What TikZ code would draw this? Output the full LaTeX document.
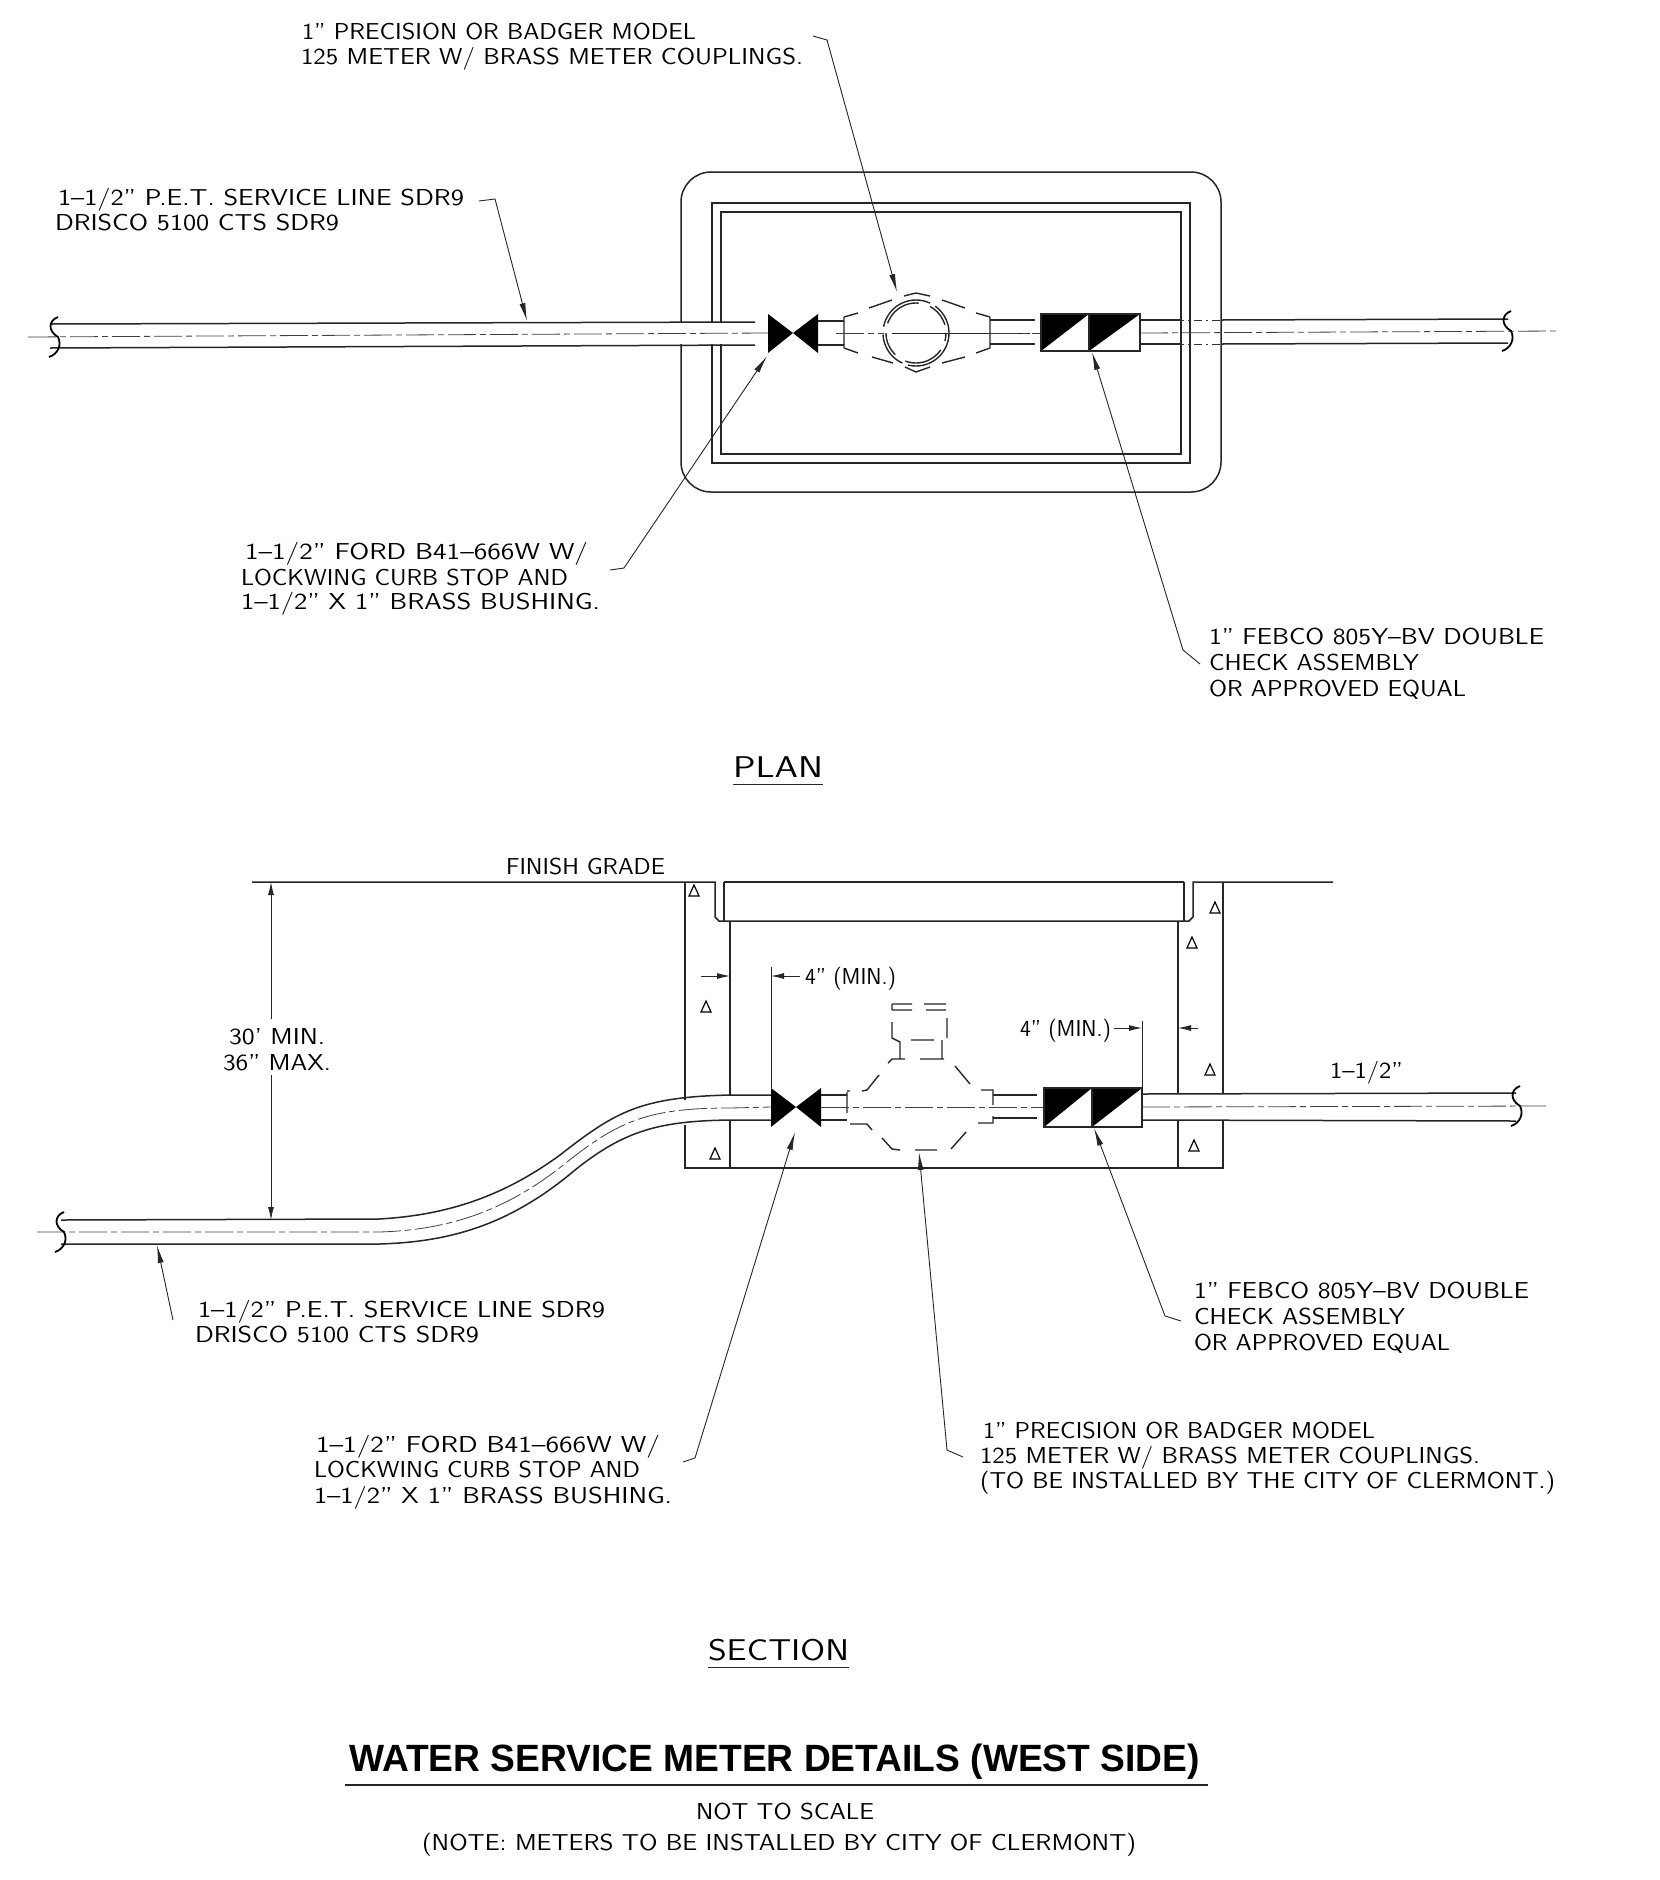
\documentclass[tikz,border=0pt]{standalone}
\usepackage{graphicx}
\usepackage{fontspec}
\usetikzlibrary{arrows.meta}
\setsansfont[Ligatures=ResetAll]{Latin Modern Sans}
\newfontfamily\titlefont{Liberation Sans}
\tikzset{
  main/.style={line width=0.75pt,black!85},
  thin/.style={line width=0.4pt,black!85},
  cl/.style={line width=0.4pt,black!75,dash pattern=on 14pt off 2pt on 3pt off 2pt},
  hidden/.style={line width=0.4pt,black!80,dash pattern=on 4pt off 2pt on 1pt off 2pt},
  lead/.style={line width=0.45pt,black!85,-{Latex[length=9pt,width=3pt]}},
  dimn/.style={line width=0.45pt,black!85,-{Latex[length=6.5pt,width=3pt]}},
  mdash/.style={line width=0.7pt,black!85},
  conc/.style={line width=0.6pt,black},
  lab/.style={anchor=west,inner sep=0pt,outer sep=0pt,text height=8pt,text depth=0pt,font=\fontsize{11.5}{13}\sffamily},
  big/.style={lab,text height=10pt,font=\fontsize{15}{17}\sffamily},
  ttl/.style={lab,text height=10pt,font=\fontsize{19}{22}\titlefont\bfseries},
}
% name, left x, right x, y, text
\newcommand\lab[5]{\node[lab] (#1) at (#2,#4) {\resizebox{\dimexpr #3pt/2-#2pt/2\relax}{\height}{#5}};}
\newcommand\biglab[5]{\node[big] (#1) at (#2,#4) {\resizebox{\dimexpr #3pt/2-#2pt/2\relax}{\height}{#5}};}
\newcommand\triang[2]{\draw[conc] (#1-5,#2+5) -- (#1+5,#2+5) -- (#1,#2-6) -- cycle;}
\newcommand\brk[2]{\draw[line width=0.9pt] (#1+6,#2-20) .. controls (#1-4,#2-16) and (#1-4,#2-6) .. (#1+6,#2) .. controls (#1+10,#2+8) and (#1+6,#2+17) .. (#1-3,#2+20);}
\begin{document}
\begin{tikzpicture}[x=0.5pt,y=-0.5pt]
\useasboundingbox[fill=white] (0,0) rectangle (1660,1880);
% ===== PLAN =====
\draw[main,rounded corners=15pt] (681,172) rectangle (1221,492);
\draw[main] (712,203) rectangle (1190,463);
\draw[main] (721,212) rectangle (1181,454);
\fill[white] (670,323) rectangle (767,344);
% pipe
\draw[main] (50,324) -- (755,322) (50,348) -- (755,345);
\draw[cl] (28,337) -- (768,333);
\brk{52}{337}
\fill[black] (768,314) -- (768,353) -- (793,333) -- (818,314) -- (818,353) -- (793,333) -- cycle;
\draw[main] (818,321) -- (844,321) (818,345) -- (844,345);
\draw[main] (990,320) -- (1035,320) (990,344) -- (1035,344);
\draw[mdash] (844,317) -- (844,348)
 (990,317) -- (990,348)
 (844,317) -- (858,313) (869,308) -- (892,300)
 (904,296) -- (916,293) -- (930,296)
 (942,300) -- (965,308) (976,313) -- (990,317)
 (844,348) -- (858,353) (872,357) -- (893,363)
 (905,367) -- (916,372) -- (930,367)
 (942,363) -- (965,357) (976,353) -- (990,348);
\draw[mdash,dash pattern=on 30pt off 3pt on 18pt off 4pt] (916,333) circle[radius=33];
\draw[mdash,dash pattern=on 12pt off 5pt on 20pt off 6pt,dash phase=8pt] (916,333) circle[radius=30];
\draw[thin] (892,333) -- (1030,333);
\draw[cl] (836,333) -- (884,333) (990,333) -- (1040,333);
\fill[black] (1041,314) -- (1089,314) -- (1041,351) -- cycle (1089,314) -- (1140,314) -- (1089,351) -- cycle;
\draw[main] (1041,314) rectangle (1140,351) (1089,314) -- (1089,351);
\draw[hidden] (1140,320) -- (1221,320) (1140,344) -- (1221,344);
\draw[main] (1140,320) -- (1180,320) (1140,344) -- (1180,344);
\draw[cl] (1140,333) -- (1558,331);
\draw[main] (1221,320) -- (1508,319) (1221,344) -- (1508,343);
\brk{1505}{331}
% plan labels
\lab{pa}{302}{696}{31}{1" PRECISION OR BADGER MODEL}
\lab{pb}{301}{803}{56}{125 METER W/ BRASS METER COUPLINGS.}
\lab{pc}{58}{464}{197}{1–1/2" P.E.T. SERVICE LINE SDR9}
\lab{pd}{55}{339}{222}{DRISCO 5100 CTS SDR9}
\lab{pe}{245}{588}{551}{1–1/2" FORD B41–666W W/}
\lab{pf}{241}{568}{577}{LOCKWING CURB STOP AND}
\lab{pg}{241}{600}{601}{1–1/2" X 1" BRASS BUSHING.}
\lab{ph}{1209}{1544}{636}{1" FEBCO 805Y–BV DOUBLE}
\lab{pi}{1209}{1419}{662}{CHECK ASSEMBLY}
\lab{pj}{1209}{1466}{688}{OR APPROVED EQUAL}
\biglab{plan}{733}{823}{767}{PLAN}
\draw[thin] (733,784) -- (823,784);
\coordinate (la0) at (813,36); \coordinate (la1) at (827,40); \coordinate (la2) at (897,292);
\draw[lead] (la0) -- (la1) -- (la2);
\coordinate (lb0) at (479,201); \coordinate (lb1) at (495,199); \coordinate (lb2) at (527,321);
\draw[lead] (lb0) -- (lb1) -- (lb2);
\coordinate (lc0) at (610,570); \coordinate (lc1) at (624,568); \coordinate (lc2) at (767,356);
\draw[lead] (lc0) -- (lc1) -- (lc2);
\coordinate (ld0) at (1200,664); \coordinate (ld1) at (1183,650); \coordinate (ld2) at (1092,352);
\draw[lead] (ld0) -- (ld1) -- (ld2);
% ===== SECTION =====
\draw[main] (252,882) -- (715,882) -- (715,917) -- (719,921) -- (1189,921) -- (1193,917) -- (1193,882) -- (1333,882);
\draw[main] (724,882) -- (724,921) (1184,882) -- (1184,921) (724,882) -- (1184,882);
\draw[main] (685,882) -- (685,1100) (685,1125) -- (685,1168) -- (1223,1168) -- (1223,1120) (1223,1094) -- (1223,882);
\draw[main] (730,921) -- (730,1095) (730,1121) -- (730,1168);
\draw[main] (1178,921) -- (1178,1094) (1178,1120) -- (1178,1168);
\triang{694}{891}\triang{706}{1007}\triang{715}{1154}\triang{1215}{908}\triang{1192}{943}\triang{1210}{1070}\triang{1194}{1146}
% curved pipe
\draw[main] (61,1220) -- (379,1219) .. controls (450,1215) and (505,1195) .. (560,1155) .. controls (615,1112) and (640,1097) .. (730,1095) -- (771,1095);
\draw[main] (61,1244) -- (379,1244) .. controls (450,1242) and (510,1225) .. (575,1170) .. controls (625,1130) and (660,1121) .. (730,1120) -- (771,1120);
\draw[cl] (37,1232) -- (379,1232) .. controls (450,1230) and (508,1210) .. (567,1162) .. controls (620,1120) and (650,1108) .. (730,1108) -- (771,1107);
\brk{58}{1232}
\fill[black] (771,1088) -- (771,1127) -- (796,1107) -- (821,1088) -- (821,1127) -- (796,1107) -- cycle;
\draw[main] (821,1095) -- (847,1095) (821,1120) -- (847,1120);
% meter section
\draw[mdash] (847,1092) -- (847,1113)
 (847,1091) -- (850,1091)
 (862,1091) -- (867,1090) -- (879,1075)
 (888,1063) -- (892,1059) -- (905,1059)
 (900,1059) -- (900,1042) -- (892,1038) -- (892,1022)
 (911,1040) -- (934,1040)
 (942,1040) -- (942,1058)
 (920,1059) -- (944,1059)
 (947,1018) -- (947,1038)
 (892,1004) -- (912,1004) (892,1010) -- (912,1010) (892,1004) -- (892,1010)
 (924,1004) -- (946,1004) (926,1010) -- (946,1010)
 (955,1066) -- (970,1084)
 (981,1090) -- (993,1090) -- (993,1105)
 (993,1116) -- (993,1123) -- (978,1123)
 (966,1132) -- (951,1149)
 (915,1150) -- (937,1150)
 (882,1138) -- (892,1149) -- (900,1150)
 (850,1124) -- (867,1124) -- (872,1130);
\draw[cl] (821,1107) -- (1044,1107);
\draw[main] (993,1095) -- (1037,1095) (993,1118) -- (1037,1118);
\fill[black] (1044,1088) -- (1092,1088) -- (1044,1127) -- cycle (1092,1088) -- (1142,1088) -- (1092,1127) -- cycle;
\draw[main] (1044,1088) rectangle (1142,1127) (1092,1088) -- (1092,1127);
\draw[main] (1142,1094) -- (1516,1093) (1142,1120) -- (1516,1121);
\draw[cl] (1142,1107) -- (1546,1106);
\brk{1514}{1106}
% dimensions
\coordinate (d1t) at (271,882); \coordinate (d1a) at (271,1019); \coordinate (d1b) at (271,1075); \coordinate (d1c) at (271,1220);
\draw[dimn] (d1a) -- (d1t);
\draw[dimn] (d1b) -- (d1c);
\draw[thin] (771,967) -- (771,1088) (1142,1021) -- (1142,1088);
\coordinate (e1) at (800,976); \coordinate (e2) at (771,976);
\draw[dimn] (e1) -- (e2);
\coordinate (e3) at (701,976); \coordinate (e4) at (730,976);
\draw[dimn] (e3) -- (e4);
\coordinate (e5) at (1114,1028); \coordinate (e6) at (1142,1028);
\draw[dimn] (e5) -- (e6);
\coordinate (e7) at (1198,1028); \coordinate (e8) at (1178,1028);
\draw[dimn] (e7) -- (e8);
% section labels
\lab{sa}{506}{665}{866}{FINISH GRADE}
\lab{sb}{229}{325}{1036}{30' MIN.}
\lab{sc}{223}{331}{1062}{36" MAX.}
\lab{sd}{805}{896}{976}{4" (MIN.)}
\lab{se}{1020}{1111}{1028}{4" (MIN.)}
\lab{sf}{1330}{1403}{1070}{1–1/2"}
\lab{sg}{198}{605}{1309}{1–1/2" P.E.T. SERVICE LINE SDR9}
\lab{sh}{195}{479}{1334}{DRISCO 5100 CTS SDR9}
\lab{si}{316}{660}{1444}{1–1/2" FORD B41–666W W/}
\lab{sj}{314}{640}{1469}{LOCKWING CURB STOP AND}
\lab{sk}{314}{672}{1495}{1–1/2" X 1" BRASS BUSHING.}
\lab{sl}{1194}{1529}{1290}{1" FEBCO 805Y–BV DOUBLE}
\lab{sm}{1194}{1405}{1316}{CHECK ASSEMBLY}
\lab{sn}{1194}{1450}{1342}{OR APPROVED EQUAL}
\lab{so}{983}{1375}{1430}{1" PRECISION OR BADGER MODEL}
\lab{sp}{980}{1480}{1455}{125 METER W/ BRASS METER COUPLINGS.}
\lab{sq}{980}{1555}{1480}{(TO BE INSTALLED BY THE CITY OF CLERMONT.)}
\coordinate (m1) at (173,1320); \coordinate (m2) at (157,1245);
\draw[lead] (m1) -- (m2);
\coordinate (n0) at (683,1462); \coordinate (n1) at (695,1458); \coordinate (n2) at (795,1132);
\draw[lead] (n0) -- (n1) -- (n2);
\coordinate (o0) at (963,1457); \coordinate (o1) at (947,1450); \coordinate (o2) at (919,1152);
\draw[lead] (o0) -- (o1) -- (o2);
\coordinate (q0) at (1181,1321); \coordinate (q1) at (1165,1316); \coordinate (q2) at (1094,1128);
\draw[lead] (q0) -- (q1) -- (q2);
% titles
\biglab{sec}{708}{849}{1650}{SECTION}
\draw[thin] (708,1667) -- (849,1667);
\node[ttl] (title) at (349,1761) {\resizebox{\dimexpr 1200pt/2-349pt/2\relax}{\height}{WATER SERVICE METER DETAILS (WEST SIDE)}};
\draw[main] (345,1785) -- (1208,1785);
\lab{nts}{696}{874}{1811}{NOT TO SCALE}
\lab{note}{422}{1136}{1842}{(NOTE: METERS TO BE INSTALLED BY CITY OF CLERMONT)}
\end{tikzpicture}
\end{document}
